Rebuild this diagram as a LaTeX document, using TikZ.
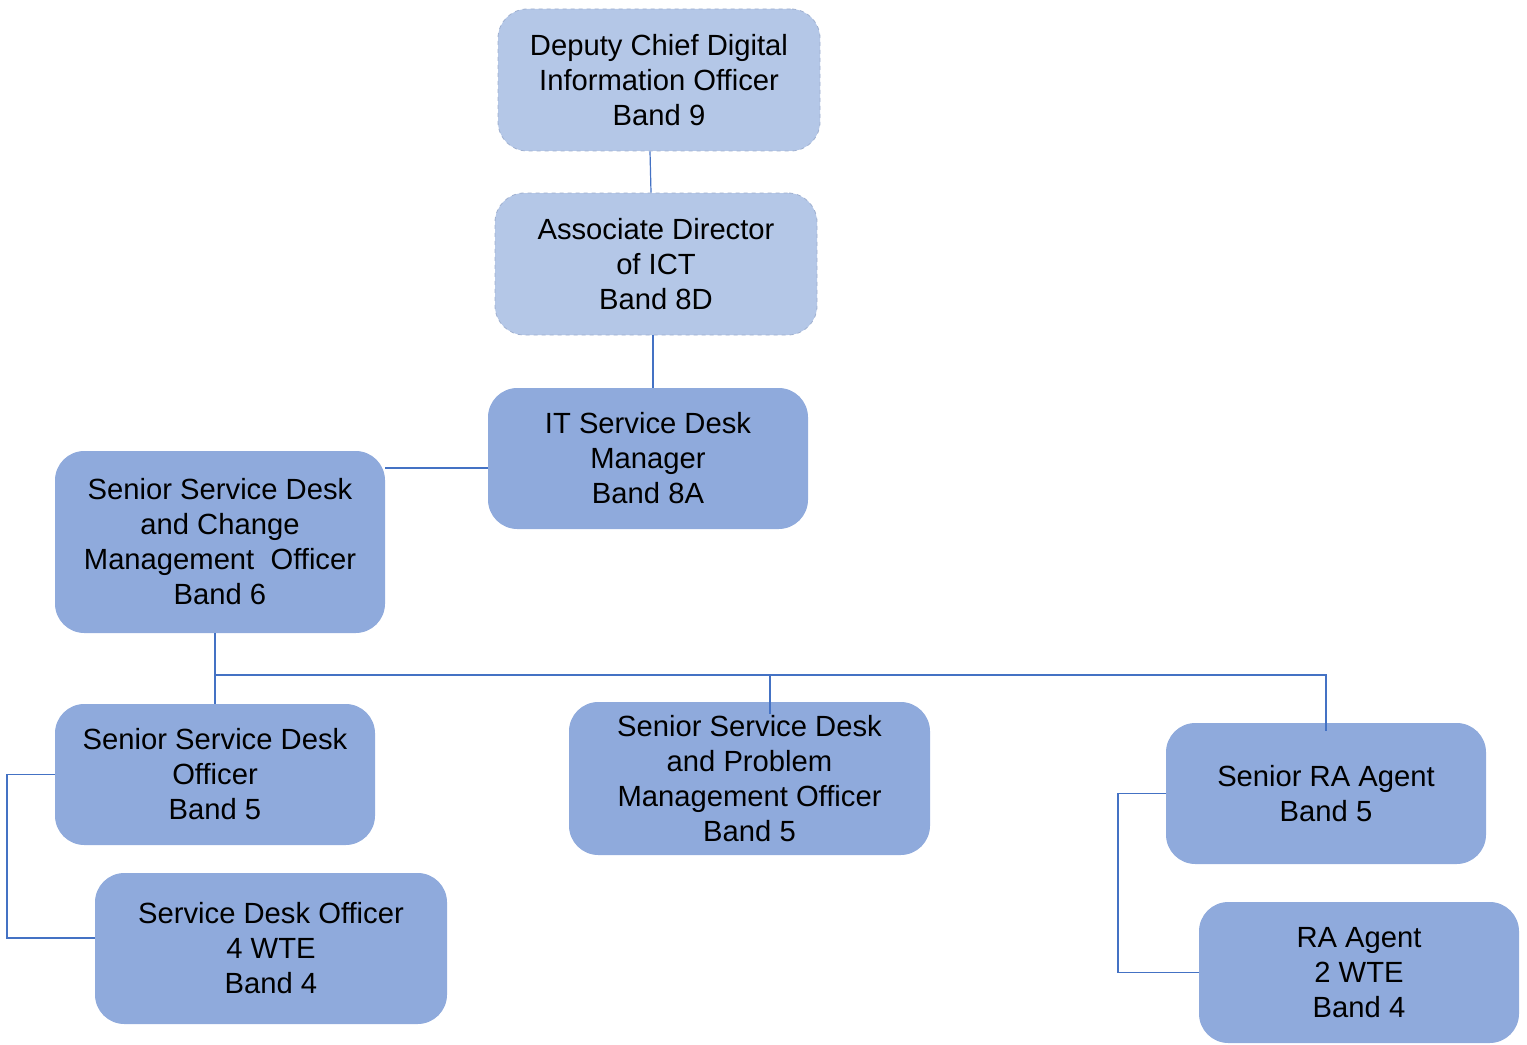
\documentclass[tikz,border=0pt]{standalone}
\usepackage{fontspec}
\setmainfont{Liberation Sans}
\definecolor{lightbox}{HTML}{B4C7E7}
\definecolor{midbox}{HTML}{8FAADC}
\definecolor{dashcol}{HTML}{9FB0D0}
\definecolor{linecol}{HTML}{4472C4}
\begin{document}
\begin{tikzpicture}[x=0.75pt,y=-0.75pt,
  box/.style={rectangle, rounded corners=22pt, fill=midbox, draw=none, align=center, inner sep=0pt,
    font=\fontsize{21.9}{26.25}\selectfont},
  dbox/.style={box, fill=lightbox, draw=dashcol, dashed, line width=0.6pt},
  conn/.style={draw=linecol, line width=0.9pt}]
\useasboundingbox (0,0) rectangle (1527,1045);

\node[dbox, minimum width=241.5pt, minimum height=106.5pt] (dcdio) at (659,80)
  {Deputy Chief Digital\\Information Officer\\Band 9};
\node[dbox, minimum width=241.5pt, minimum height=106.5pt] (adict) at (656,264)
  {Associate Director\\of ICT\\Band 8D};
\node[box, minimum width=240pt, minimum height=105.75pt] (itsdm) at (648,458.5)
  {IT Service Desk\\Manager\\Band 8A};
\node[box, minimum width=247.5pt, minimum height=136.5pt] (ssdcmo) at (220,542)
  {Senior Service Desk\\and Change\\Management\ \ Officer\\Band 6};
\node[box, minimum width=240pt, minimum height=105.75pt] (ssdo) at (215,774.5)
  {Senior Service Desk\\Officer\\Band 5};
\node[box, minimum width=264pt, minimum height=113.25pt] (sdo) at (271,948.5)
  {Service Desk Officer\\4 WTE\\Band 4};
\node[box, minimum width=270.75pt, minimum height=114.75pt] (ssdpmo) at (749.5,778.5)
  {Senior Service Desk\\and Problem\\Management Officer\\Band 5};
\node[box, minimum width=240pt, minimum height=105.75pt] (sra) at (1326,793.5)
  {Senior RA Agent\\Band 5};
\node[box, minimum width=240pt, minimum height=105.75pt] (ra) at (1359,972.5)
  {RA Agent\\2 WTE\\Band 4};

% connectors
\draw[conn] (dcdio.south) ++(-9,0) -- (adict.north -| 651,0);
\draw[conn] (adict.south) ++(-3,0) coordinate (a1) -- (a1 |- itsdm.north);
\draw[conn] (itsdm.west |- 0,468) coordinate (b1) -- (b1 -| ssdcmo.east);
\coordinate (bus) at (215,675);
\draw[conn] (ssdcmo.south -| bus) -- (ssdo.north -| bus);
\draw[conn] (bus) -- (1326,675) coordinate (busr) -- ([yshift=-6]busr |- sra.north);
\draw[conn] (770,675) -- (770,714);
\draw[conn] (ssdo.west) -- (7,774.5) -- (7,938) -- (sdo.west |- 0,938);
\draw[conn] (sra.west) -- (1118,793.5) |- (ra.west);
\end{tikzpicture}
\end{document}
